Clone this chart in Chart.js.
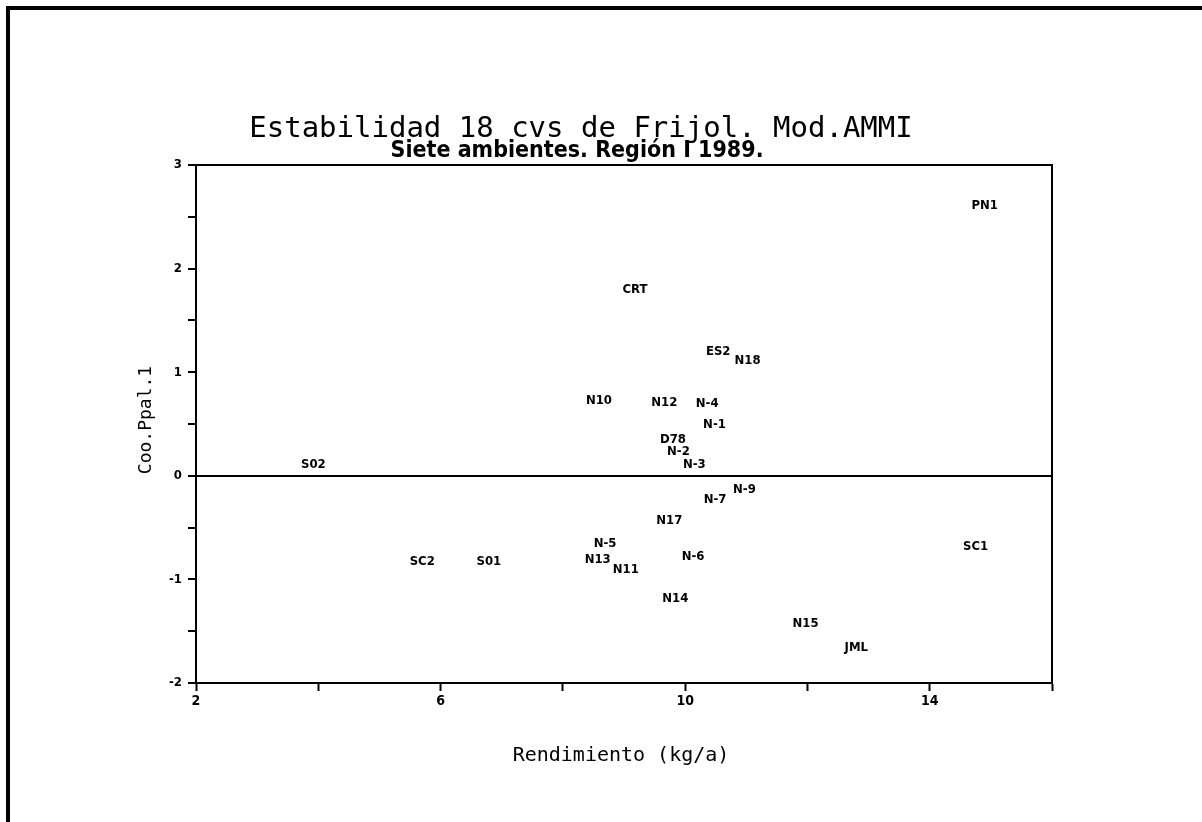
<!DOCTYPE html>
<html>
<head>
<meta charset="utf-8">
<script src="https://cdn.jsdelivr.net/npm/chart.js@4.4.1/dist/chart.umd.min.js"></script>
<style>
  html, body { margin: 0; padding: 0; background: #fff; }
  #wrap { position: relative; width: 1202px; height: 822px; }
  canvas { display: block; }
</style>
</head>
<body>
<div id="wrap"><canvas id="c" width="1202" height="822"></canvas></div>
<script>
// ---- data ----
const cultivars = ["PN1","CRT","ES2","N18","N10","N12","N-4","N-1","D78","N-2","N-3","N-9","N-7","N17","N-5","N-6","N13","N11","N14","N15","JML","SC1","SC2","S01","S02"];
const yieldKgA  = [14.90, 9.18, 10.54, 11.02, 8.59, 9.66, 10.36, 10.48, 9.80, 9.89, 10.15, 10.97, 10.49, 9.74, 8.69, 10.13, 8.57, 9.03, 9.84, 11.97, 12.80, 14.75, 5.70, 6.79, 3.92];
const ipca1     = [2.61, 1.80, 1.20, 1.11, 0.73, 0.71, 0.70, 0.49, 0.35, 0.23, 0.11, -0.13, -0.23, -0.43, -0.65, -0.78, -0.81, -0.91, -1.19, -1.43, -1.66, -0.68, -0.83, -0.83, 0.11];
const xTickLabels = [2, 6, 10, 14];
const yTickLabels = [-2, -1, 0, 1, 2, 3];
const titleLine1 = "Estabilidad 18 cvs de Frijol. Mod.AMMI";
const titleLine2 = "Siete ambientes. Región I 1989.";
const xTitle = "Rendimiento (kg/a)";
const yTitle = "Coo.Ppal.1";

const points = yieldKgA.map((x, i) => ({ x: x, y: ipca1[i] }));

const decor = {
  id: 'decor',
  afterDraw(chart) {
    const ctx = chart.ctx;
    const a = chart.chartArea;
    ctx.save();
    // page frame (top and left)
    ctx.strokeStyle = '#000';
    ctx.lineWidth = 4;
    ctx.beginPath();
    ctx.moveTo(1202, 8); ctx.lineTo(8, 8); ctx.lineTo(8, 822);
    ctx.stroke();
    // plot box
    ctx.lineWidth = 2;
    ctx.strokeRect(a.left, a.top, a.right - a.left, a.bottom - a.top);
    // point labels
    const meta = chart.getDatasetMeta(0);
    ctx.fillStyle = '#000';
    ctx.font = 'bold 13px "DejaVu Sans Condensed", "DejaVu Sans", sans-serif';
    ctx.textAlign = 'center';
    ctx.textBaseline = 'middle';
    meta.data.forEach((el, i) => {
      ctx.fillText(cultivars[i], el.x, el.y);
    });
    // titles
    ctx.font = '29px "DejaVu Sans Mono", monospace';
    ctx.textBaseline = 'alphabetic';
    ctx.fillText(titleLine1, 581, 137);
    ctx.font = 'bold 23px "Liberation Sans Narrow", "DejaVu Sans Condensed", sans-serif';
    ctx.fillText(titleLine2, 577, 157);
    // axis titles
    ctx.font = '20px "DejaVu Sans Mono", monospace';
    ctx.textBaseline = 'middle';
    ctx.fillText(xTitle, 621, 756);
    ctx.translate(146, 420);
    ctx.rotate(-Math.PI / 2);
    ctx.font = '18px "DejaVu Sans Mono", monospace';
    ctx.fillText(yTitle, 0, 0);
    ctx.restore();
  }
};

new Chart(document.getElementById('c'), {
  type: 'scatter',
  data: {
    datasets: [{
      data: points,
      pointRadius: 0,
      pointHoverRadius: 0,
      borderColor: '#000',
      backgroundColor: '#000'
    }]
  },
  options: {
    responsive: false,
    animation: false,
    events: [],
    layout: { padding: { left: 100, right: 150, top: 165, bottom: 79 } },
    plugins: { legend: { display: false }, tooltip: { enabled: false }, title: { display: false } },
    scales: {
      x: {
        type: 'linear',
        min: 2, max: 16,
        afterFit(s) { s.height = 60; },
        ticks: {
          stepSize: 2,
          color: '#000',
          font: { family: '"DejaVu Sans Condensed", "DejaVu Sans", sans-serif', size: 14, weight: 'bold' },
          padding: 2,
          maxRotation: 0,
          autoSkip: false,
          callback: (v) => xTickLabels.includes(v) ? String(v) : ''
        },
        grid: {
          drawOnChartArea: false,
          tickColor: '#000',
          tickLength: 8,
          tickWidth: 2
        },
        border: { display: true, color: '#000', width: 2 }
      },
      y: {
        type: 'linear',
        min: -2, max: 3,
        afterFit(s) { s.width = 96; },
        ticks: {
          stepSize: 0.5,
          color: '#000',
          font: { family: '"DejaVu Sans Condensed", "DejaVu Sans", sans-serif', size: 13, weight: 'bold' },
          padding: 6,
          autoSkip: false,
          callback: (v) => yTickLabels.includes(v) ? String(v) : ''
        },
        grid: {
          drawOnChartArea: true,
          color: (c) => (c.tick && c.tick.value === 0) ? '#000' : 'rgba(0,0,0,0)',
          lineWidth: (c) => (c.tick && c.tick.value === 0) ? 2 : 0,
          tickColor: '#000',
          tickLength: 8,
          tickWidth: 2
        },
        border: { display: true, color: '#000', width: 2 }
      }
    }
  },
  plugins: [decor]
});
</script>
</body>
</html>
